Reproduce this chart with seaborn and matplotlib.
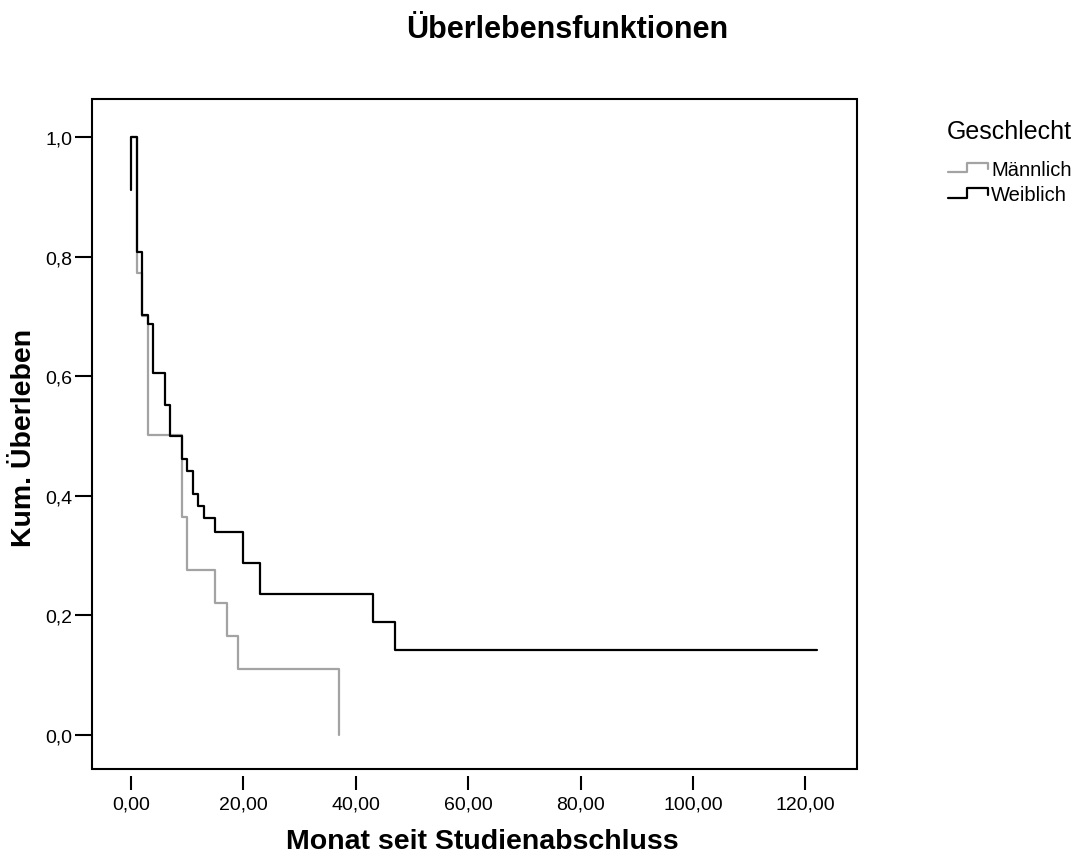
import matplotlib
matplotlib.use("Agg")
import matplotlib.pyplot as plt
from matplotlib.lines import Line2D
from matplotlib.legend_handler import HandlerBase
from matplotlib.patches import Rectangle
import pandas as pd
import seaborn as sns

# Kaplan-Meier step vertices (time in months, cumulative survival)
weiblich_t = [0, 0, 1, 2, 3, 4, 6, 7, 9, 10, 11, 12, 13, 15, 20, 23, 43, 47, 122]
weiblich_s = [0.911, 1.0, 0.808, 0.702, 0.688, 0.605, 0.552, 0.500, 0.462, 0.442,
              0.403, 0.382, 0.362, 0.340, 0.288, 0.235, 0.189, 0.142, 0.142]
maennlich_t = [0, 1, 2, 3, 9, 10, 15, 17, 19, 37]
maennlich_s = [1.0, 0.772, 0.700, 0.502, 0.365, 0.275, 0.220, 0.166, 0.110, 0.0]

groups = ["Männlich", "Weiblich"]
x_ticks = [0, 20, 40, 60, 80, 100, 120]
x_tick_labels = ["0,00", "20,00", "40,00", "60,00", "80,00", "100,00", "120,00"]
y_ticks = [0.0, 0.2, 0.4, 0.6, 0.8, 1.0]
y_tick_labels = ["0,0", "0,2", "0,4", "0,6", "0,8", "1,0"]

df = pd.concat([
    pd.DataFrame({"Monat": maennlich_t, "Survival": maennlich_s, "Geschlecht": groups[0]}),
    pd.DataFrame({"Monat": weiblich_t, "Survival": weiblich_s, "Geschlecht": groups[1]}),
], ignore_index=True)

sns.set_theme(style="white")
plt.rcParams["font.family"] = ["Liberation Sans", "DejaVu Sans"]
plt.rcParams.update({"text.color": "black", "axes.labelcolor": "black",
                     "xtick.color": "black", "ytick.color": "black"})

palette = {"Männlich": "#a3a3a3", "Weiblich": "#000000"}

fig = plt.figure(figsize=(10.76, 8.53), dpi=100)
ax = fig.add_axes([0.0855, 0.0973, 0.711, 0.7855])

sns.lineplot(data=df, x="Monat", y="Survival", hue="Geschlecht", palette=palette,
             estimator=None, sort=False, drawstyle="steps-post", linewidth=1.6,
             legend=False, ax=ax)

ax.set_xlim(-6.94, 129.2)
ax.set_ylim(-0.057, 1.0635)

# Frame box; the x tick axis sits slightly below it
ax.spines["bottom"].set_position(("outward", 5))
for side in ["left", "bottom"]:
    ax.spines[side].set_color("none")
for side in ["top", "right"]:
    ax.spines[side].set_visible(False)
ax.add_patch(Rectangle((0, 0), 1, 1, transform=ax.transAxes, fill=False,
                       edgecolor="black", linewidth=1.5, clip_on=False, zorder=5))

ax.set_xticks(x_ticks)
ax.set_xticklabels(x_tick_labels)
ax.set_yticks(y_ticks)
ax.set_yticklabels(y_tick_labels)
ax.tick_params(axis="x", direction="out", length=10, width=1.5, labelsize=14,
               pad=4, bottom=True)
ax.tick_params(axis="y", direction="out", length=12, width=1.5, labelsize=14,
               pad=2, left=True)

ax.set_xlabel("Monat seit Studienabschluss", fontsize=20.5, fontweight="bold")
ax.set_ylabel("Kum. Überleben", fontsize=20.5, fontweight="bold")
ax.xaxis.label.set_va("center")
ax.yaxis.label.set_va("center")
ax.xaxis.set_label_coords(0.51, -0.107)
ax.yaxis.set_label_coords(-0.0889, 0.4955)

fig.text(567 / 1076, 1 - 30 / 853, "Überlebensfunktionen", ha="center", va="center",
         fontsize=22, fontweight="bold")


class StepHandler(HandlerBase):
    def create_artists(self, legend, orig_handle, xdescent, ydescent, width,
                       height, fontsize, trans):
        w, h = width, height
        xs = [0, 0.48 * w, 0.48 * w, w, w]
        ys = [0.2 * h, 0.2 * h, 0.85 * h, 0.85 * h, 0.4 * h]
        line = Line2D([x - xdescent for x in xs], [y - ydescent for y in ys],
                      color=orig_handle.get_color(), linewidth=1.6)
        line.set_transform(trans)
        return [line]


handles = [Line2D([], [], color=palette[g]) for g in groups]
fig.legend(handles, groups, loc="upper left",
           bbox_to_anchor=(948 / 1076, 1 - 161 / 853), frameon=False,
           handler_map={Line2D: StepHandler()}, handlelength=2.0,
           handletextpad=0.15, labelspacing=0.32, fontsize=14.5,
           borderaxespad=0, borderpad=0)
fig.text(947 / 1076, 1 - 132 / 853, "Geschlecht", ha="left", va="center",
         fontsize=18)

fig.savefig("out.png", dpi=100)
